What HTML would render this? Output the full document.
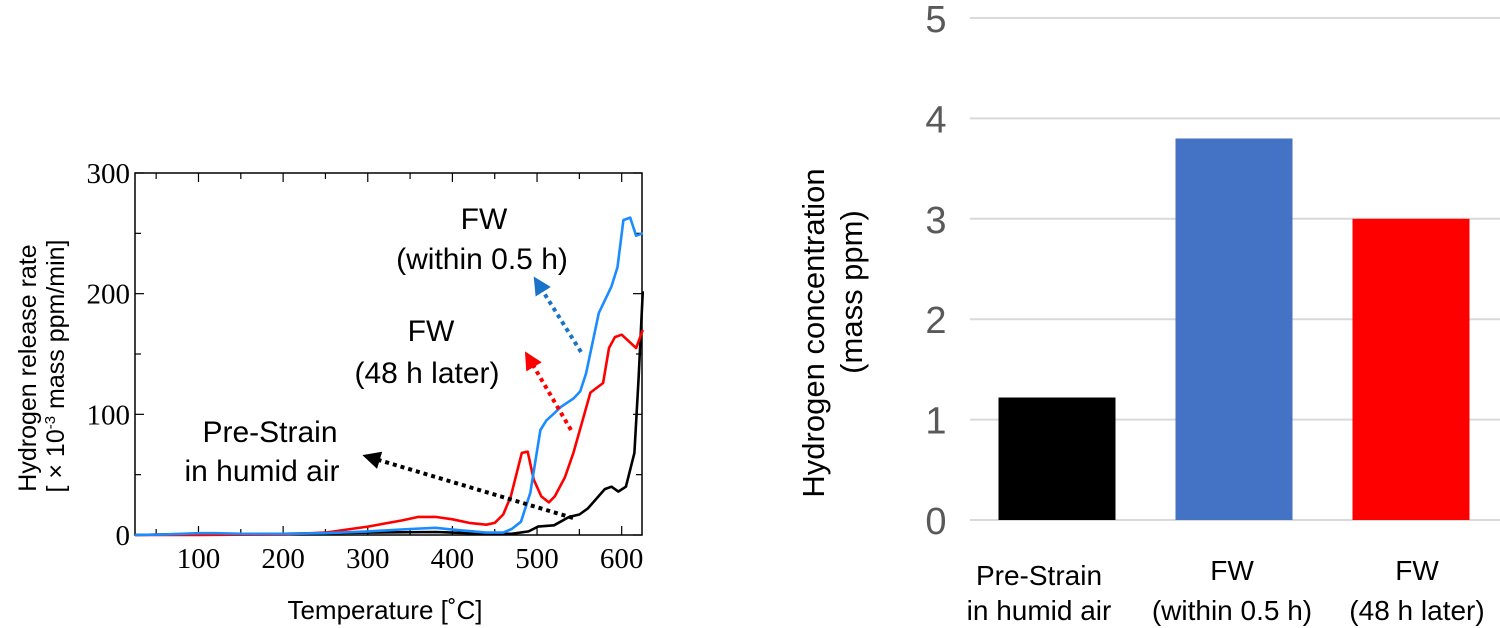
<!DOCTYPE html>
<html><head><meta charset="utf-8"><style>
html,body{margin:0;padding:0;background:#fff;}
svg{display:block;}
</style></head><body>
<svg id="root" width="1500" height="628" viewBox="0 0 1500 628" xmlns="http://www.w3.org/2000/svg">
<defs>
<marker id="ah-b" markerWidth="4.5" markerHeight="4.5" refX="2" refY="2.25" orient="auto" markerUnits="strokeWidth"><path d="M0,0 L4.5,2.25 L0,4.5 z" fill="#000"/></marker>
<marker id="ah-bl" markerWidth="4.5" markerHeight="4.5" refX="2" refY="2.25" orient="auto" markerUnits="strokeWidth"><path d="M0,0 L4.5,2.25 L0,4.5 z" fill="#1a73c8"/></marker>
<marker id="ah-r" markerWidth="4.5" markerHeight="4.5" refX="2" refY="2.25" orient="auto" markerUnits="strokeWidth"><path d="M0,0 L4.5,2.25 L0,4.5 z" fill="#ff0000"/></marker>
</defs>
<g id="left"></g>
<g id="right"></g>
</svg>
<script>
// ---- Left chart data ----
const blueT = [25,60,100,120,150,200,250,300,350,380,400,440,460,470,481,492,504,511,519,528,543,551,558,573,588,595,602,610,617,625];
const blueV = [0,0.5,1.5,1.5,1,1,1.5,3,5,6,4.5,2,2,5,11,35,87,95,100,106,113,119,134,184,206,222,261,263,248,250];
const redT = [25,100,200,250,280,300,340,360,380,400,420,440,450,460,469,482,489,496,505,514,521,533,543,553,563,578,585,592,600,617,625];
const redV = [0,0,0.5,2,5,7,12,15,15,13,10,8.5,10,17,32,68,69,46,32,27,32,48,68,93,118,126,155,164,166,155,170];
const blackT = [25,100,150,200,300,380,400,440,470,490,501,520,538,550,560,570,580,588,596,605,615,620,625];
const blackV = [0,1,0.5,1,2,2.5,2,1,1,3,7,8,15,17,22,30,38,40,36,40,68,130,202];
const yTicks = [0,100,200,300];
const xTicks = [100,200,300,400,500,600];
// ---- Right chart data ----
const barCats = [["Pre-Strain","in humid air"],["FW","(within 0.5 h)"],["FW","(48 h later)"]];
const barVals = [1.22,3.8,3.0];
const barTicks = [0,1,2,3,4,5];

const NS="http://www.w3.org/2000/svg";
function mk(parent,tag,attrs,text){const e=document.createElementNS(NS,tag);for(const k in attrs)e.setAttribute(k,attrs[k]);if(text!==undefined)e.textContent=text;parent.appendChild(e);return e;}

// Left axes
const L=document.getElementById('left');
const x0=135,x1=642,yb=535,yt=173,tMin=25,tMax=624;
const X=t=>x0+(t-tMin)/(tMax-tMin)*(x1-x0);
const Y=v=>yb-v/300*(yb-yt);
const frame=mk(L,'rect',{x:x0,y:yt,width:x1-x0,height:yb-yt,fill:'none',stroke:'#000','stroke-width':1.5});


for(let v=0;v<=300;v+=50){
  const len=v%100===0?9:6;
  const t1=mk(L,'line',{x1:x0,x2:x0+len,y1:Y(v),y2:Y(v),stroke:'#000','stroke-width':1.2});
  
  
  const t2=mk(L,'line',{x1:x1,x2:x1-len,y1:Y(v),y2:Y(v),stroke:'#000','stroke-width':1.2});
  
  
}
for(let t=50;t<=600;t+=50){
  const len=t%100===0?9:6;
  const a=mk(L,'line',{x1:X(t),x2:X(t),y1:yb,y2:yb-len,stroke:'#000','stroke-width':1.2});
  
  
  const b=mk(L,'line',{x1:X(t),x2:X(t),y1:yt,y2:yt+len,stroke:'#000','stroke-width':1.2});
  
  
}
yTicks.forEach(v=>{
  const e=mk(L,'text',{x:130,y:Y(v)+10,'text-anchor':'end','font-family':'Liberation Serif, serif','font-size':29},v);
  
  
});
xTicks.forEach(t=>{
  const e=mk(L,'text',{x:X(t),y:568,'text-anchor':'middle','font-family':'Liberation Serif, serif','font-size':29},t);
  
  
});
const xt=mk(L,'text',{x:385,y:619,'text-anchor':'middle','font-family':'Liberation Sans, sans-serif','font-size':26},'Temperature [˚C]');


const yt1=mk(L,'text',{transform:'translate(36,368) rotate(-90)','text-anchor':'middle','font-family':'Liberation Sans, sans-serif','font-size':25},'Hydrogen release rate');


const yt2=mk(L,'text',{transform:'translate(64,366) rotate(-90)','text-anchor':'middle','font-family':'Liberation Sans, sans-serif','font-size':25});


yt2.innerHTML='[ × 10<tspan dy="-9" font-size="15">-3</tspan><tspan dy="9"> mass ppm/min]</tspan>';

function series(T,V,color,name){
  const d=T.map((t,i)=>(i?'L':'M')+X(t).toFixed(1)+','+Y(V[i]).toFixed(1)).join(' ');
  const p=mk(L,'path',{d:d,fill:'none',stroke:color,'stroke-width':2.6,'stroke-linejoin':'round'});
  
  
}
series(blackT,blackV,'#000','series-pre-strain');
series(redT,redV,'#ff0000','series-fw-48h');
series(blueT,blueV,'#1a8cff','series-fw-0-5h');

function arrow(xa,ya,xb,yb2,color,m,name){
  const a=mk(L,'line',{x1:xa,y1:ya,x2:xb,y2:yb2,stroke:color,'stroke-width':4,'stroke-dasharray':'4 4','marker-end':'url(#'+m+')'});
  
  
}
arrow(581,352,539,285,'#1a73c8','ah-bl','arrow-fw-0-5h');
arrow(571,430,530,360,'#ff0000','ah-r','arrow-fw-48h');
arrow(573,518,372,458,'#000','ah-b','arrow-pre-strain');

function lbl(x,y,s,name){const e=mk(L,'text',{x:x,y:y,'text-anchor':'middle','font-family':'Liberation Sans, sans-serif','font-size':30},s);}
lbl(484,229,'FW','label-fw-0-5h-line1');
lbl(482,269,'(within 0.5 h)','label-fw-0-5h-line2');
lbl(431,341,'FW','label-fw-48h-line1');
lbl(427,383,'(48 h later)','label-fw-48h-line2');
lbl(270,442,'Pre-Strain','label-pre-strain-line1');
lbl(262,481,'in humid air','label-pre-strain-line2');

// Right chart
const R=document.getElementById('right');
const gx0=970,gx1=1500,g0=520,g5=18;
const BY=v=>g0-v/5*(g0-g5);
barTicks.forEach(v=>{
  const g=mk(R,'line',{x1:gx0,x2:gx1,y1:BY(v),y2:BY(v),stroke:'#d9d9d9','stroke-width':2});
  
  
  const t=mk(R,'text',{x:936,y:BY(v)+14,'text-anchor':'middle','font-family':'Liberation Sans, sans-serif','font-size':38,fill:'#595959'},v);
  
  
});
const barColors=['#000000','#4472c4','#ff0000'];
const bw=117,step=177,firstC=1057;
barVals.forEach((v,i)=>{
  const cx=firstC+i*step;
  const r=mk(R,'rect',{x:cx-bw/2,y:BY(v),width:bw,height:g0-BY(v),fill:barColors[i]});
  
  
  const offs=[-18,-2,6][i];
  const a=mk(R,'text',{x:cx+offs,y:[585,580,580][i],'text-anchor':'middle','font-family':'Liberation Sans, sans-serif','font-size':28},barCats[i][0]);
  
  
  const b=mk(R,'text',{x:cx+offs,y:620,'text-anchor':'middle','font-family':'Liberation Sans, sans-serif','font-size':28},barCats[i][1]);
  
  
});
const rt1=mk(R,'text',{transform:'translate(824,333) rotate(-90)','text-anchor':'middle','font-family':'Liberation Sans, sans-serif','font-size':31},'Hydrogen concentration');


const rt2=mk(R,'text',{transform:'translate(862,292) rotate(-90)','text-anchor':'middle','font-family':'Liberation Sans, sans-serif','font-size':31},'(mass ppm)');


</script>
</body></html>
